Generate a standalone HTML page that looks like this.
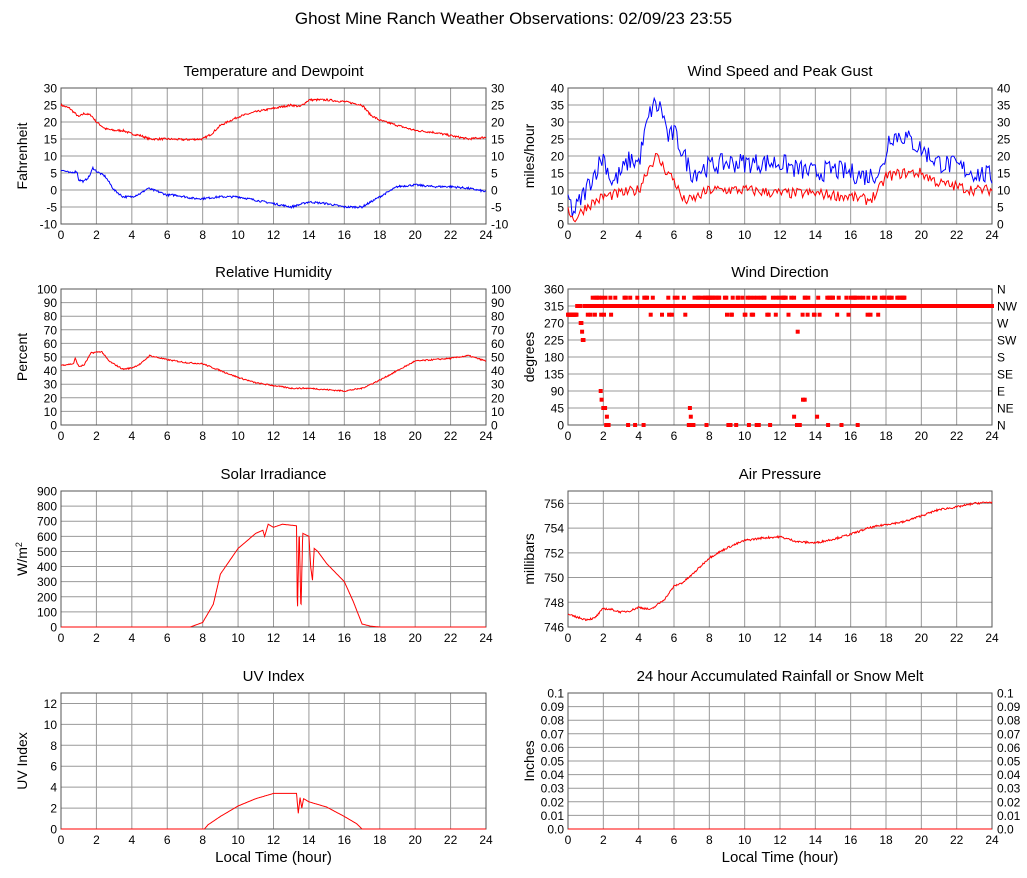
<!DOCTYPE html><html><head><meta charset="utf-8"><style>body{margin:0;background:#fff}svg{display:block}text{font-family:"Liberation Sans",sans-serif;fill:#000}</style></head><body>
<svg id="s" width="1027" height="878" xmlns="http://www.w3.org/2000/svg"></svg>
<script>
var S=document.getElementById('s'),out='';
var seed=7;function rnd(){seed=(seed*16807)%2147483647;return seed/2147483647;}
function T(x,y,t,a,sz,rot){out+='<text x="'+x+'" y="'+y+'" font-size="'+(sz||12)+'" text-anchor="'+(a||'middle')+'"'+(rot?' transform="rotate(-90 '+x+' '+y+')"':'')+'>'+t+'</text>';}
function panel(p){
 var x0=p.x,y0=p.y,w=p.w,h=136,ymin=p.min,ymax=p.max;
 p.X=function(t){return x0+t/24*w};p.Y=function(v){return y0+h-(v-ymin)/(ymax-ymin)*h};
 for(var i=0;i<=12;i++){var x=x0+i*w/12;out+='<line x1="'+x+'" y1="'+y0+'" x2="'+x+'" y2="'+(y0+h)+'" stroke="#999"/>';T(x,y0+h+15,2*i);}
 p.ticks.forEach(function(v,k){var y=p.Y(v);out+='<line x1="'+x0+'" y1="'+y+'" x2="'+(x0+w)+'" y2="'+y+'" stroke="#999"/>';T(x0-4,y+4.5,p.lab?p.lab[k]:v,'end');if(p.right)T(x0+w+5,y+4.5,p.rl?p.rl[k]:v,'start');});
 out+='<rect x="'+x0+'" y="'+y0+'" width="'+w+'" height="'+h+'" fill="none" stroke="#555"/>';
 T(x0+w/2,y0-12,p.title,'middle',15);
 T(x0-34,y0+h/2,p.ylab,'middle',14,1);
 if(p.xl)T(x0+w/2,y0+h+33,'Local Time (hour)','middle',15);
}
function interp(k,t){for(var i=1;i<k.length;i++)if(t<=k[i][0]){var a=k[i-1],b=k[i];return a[1]+(b[1]-a[1])*(t-a[0])/(b[0]-a[0]||1);}return k[k.length-1][1];}
function line(p,k,col,noise,step){var d='';step=step||0.04;for(var t=0;t<=24.001;t+=step){var v=interp(k,t)+(noise?(rnd()-0.5)*2*noise:0);if(p.clip)v=Math.max(p.min,v);d+=(d?'L':'M')+p.X(t).toFixed(1)+' '+p.Y(v).toFixed(1);}out+='<path d="'+d+'" fill="none" stroke="'+col+'" stroke-width="1"/>';}
var L=61,R=568,W=425;
var P1={x:L,y:88,w:W,min:-10,max:30,ticks:[-10,-5,0,5,10,15,20,25,30],right:1,title:'Temperature and Dewpoint',ylab:'Fahrenheit'};
var P2={x:R,y:88,w:424,min:0,max:40,ticks:[0,5,10,15,20,25,30,35,40],right:1,title:'Wind Speed and Peak Gust',ylab:'miles/hour'};
var P3={x:L,y:289,w:W,min:0,max:100,ticks:[0,10,20,30,40,50,60,70,80,90,100],right:1,title:'Relative Humidity',ylab:'Percent'};
var P4={x:R,y:289,w:424,min:0,max:360,ticks:[0,45,90,135,180,225,270,315,360],right:1,rl:['N','NE','E','SE','S','SW','W','NW','N'],title:'Wind Direction',ylab:'degrees'};
var P5={x:L,y:491,w:W,min:0,max:900,ticks:[0,100,200,300,400,500,600,700,800,900],title:'Solar Irradiance',ylab:'W/m<tspan dy="-5" font-size="9">2</tspan>'};
var P6={x:R,y:491,w:424,min:746,max:757,ticks:[746,748,750,752,754,756],title:'Air Pressure',ylab:'millibars'};
var P7={x:L,y:693,w:W,min:0,max:13,ticks:[0,2,4,6,8,10,12],title:'UV Index',ylab:'UV Index',xl:1};
var rt=[];for(var i=0;i<=10;i++)rt.push(i/100);
var P8={x:R,y:693,w:424,min:0,max:0.1,ticks:rt,lab:rt.map(function(v){return v==0?'0.0':v==0.1?'0.1':v.toFixed(2)}),right:1,rl:rt.map(function(v){return v==0?'0.0':v==0.1?'0.1':v.toFixed(2)}),title:'24 hour Accumulated Rainfall or Snow Melt',ylab:'Inches',xl:1};
[P1,P2,P3,P4,P5,P6,P7,P8].forEach(panel);
T(513.5,24,'Ghost Mine Ranch Weather Observations: 02/09/23 23:55','middle',17);
line(P1,[[0,25],[0.5,24],[1,21.5],[1.3,22.5],[1.7,22],[2,20],[2.5,18],[3,17.5],[3.5,17.5],[4,16.5],[4.5,16],[5,15],[6,15],[7,14.8],[8,15],[8.5,16.5],[9,19],[10,21.5],[11,23],[12,24],[13,25],[13.5,24.5],[14,26.5],[15,26.5],[16,26],[17,25],[17.5,22],[18,20.5],[19,19],[20,17.5],[21,17],[22,16],[23,15],[24,15.5]],'red',0.3);
line(P1,[[0,6],[0.5,5],[0.9,5.5],[1,3],[1.3,2.5],[1.6,4],[1.8,6.5],[2,5.5],[2.5,4],[3,0],[3.5,-2],[4,-2],[4.5,-1],[4.9,0.5],[5.5,-0.5],[6,-1.5],[6.5,-1.5],[7,-2],[7.5,-2.5],[8,-2.5],[9,-2],[10,-2],[11,-3],[12,-4],[13,-5],[14,-3.5],[15,-4],[16,-5],[17,-5],[18,-2],[19,1],[20,1.5],[21,1],[22,1],[23,0.5],[24,-0.5]],'blue',0.3);
line(P2,[[0,8],[0.3,3],[1,10],[1.5,15],[2,20],[2.5,12],[3,15],[3.5,19],[4,18],[4.5,30],[4.8,35],[5.3,34],[5.7,25],[6,27],[6.5,21],[7,15],[8,17],[9,18],[10,18],[12,18],[13,16],[14,15],[15,16],[16,15],[17,14],[17.8,16],[18.2,26],[19,26],[20,22],[21,18],[22,17],[23,15],[24,14]],'blue',3,0.08);
line(P2,[[0,5],[0.3,1],[1,5],[2,8],[3,9],[4,10],[4.5,16],[5,20],[5.5,16],[6,13],[6.5,7],[7,7],[8,10],[10,10],[12,9],[14,9],[16,8],[17,7],[17.5,9],[18,14],[19,15],[20,15],[21,12],[22,11],[23,10],[24,10]],'red',1.6,0.08);
line(P3,[[0,44],[0.7,45],[0.8,49],[1,43],[1.3,44],[1.7,53],[2.3,54],[2.7,47],[3.5,41],[4,42],[4.5,45],[5,51],[6,48],[7,46],[8,45],[9,40],[10,35],[11,31],[12,29],[13,27],[14,27],[15,26],[16,25],[17,27],[18,33],[19,40],[20,47],[21,48],[22,49],[23,51],[24,47]],'red',0.5);
// wind direction dots
function dot(t,v){out+='<rect x="'+(P4.X(t)-2).toFixed(1)+'" y="'+(P4.Y(v)-2).toFixed(1)+'" width="4" height="4" fill="red"/>';}
for(var t=0;t<=24;t+=0.04){var v;
 if(t<0.5)v=292;else if(t<0.7)v=315;else if(t<0.9)v=[270,247,225][Math.floor((t-0.7)/0.07)]||225;
 else if(t>18.5){v=315;if(t<19.1&&rnd()<0.5)v=337;}
 else{var r=rnd();v=r<0.62?315:r<0.82?337:r<0.9?292:(r<0.95&&t>1.5&&t<17?0:315);}
 dot(t,v);}
[[1.85,90],[1.9,67],[2,45],[2.1,45],[2.2,22],[2.3,0],[6.9,45],[6.95,22],[7,0],[7.1,0],[13,247],[13.3,67],[13.4,67],[12.8,22],[14.1,22]].forEach(function(a){dot(a[0],a[1]);});
line(P5,[[0,0],[7.3,0],[8,30],[8.6,150],[9,350],[10,520],[11,620],[11.4,640],[11.5,600],[11.7,680],[12,660],[12.5,680],[13.3,670],[13.35,80],[13.45,650],[13.55,100],[13.65,620],[14,600],[14.1,400],[14.2,310],[14.3,520],[14.5,500],[15,420],[16,300],[16.5,170],[17,20],[17.5,5],[18,0],[24,0]],'red',0,0.02);
line(P6,[[0,747],[0.5,746.8],[1,746.6],[1.5,746.7],[2,747.5],[2.5,747.4],[3,747.2],[3.5,747.3],[4,747.6],[4.7,747.4],[5.5,748.3],[6,749.3],[6.5,749.6],[7,750.2],[8,751.6],[9,752.4],[10,753],[11,753.2],[12,753.3],[13,752.9],[14,752.8],[15,753.1],[16,753.5],[17,754],[18,754.3],[19,754.5],[20,755],[21,755.5],[22,755.7],[23,756],[24,756.1]],'red',0.08);
line(P7,[[0,0],[8.1,0],[8.3,0.4],[9,1.2],[10,2.2],[11,2.9],[12,3.4],[13.3,3.4],[13.4,1.5],[13.5,3],[13.6,2],[13.7,2.9],[14,2.6],[15,2.1],[16,1.2],[16.7,0.5],[17,0],[24,0]],'red',0,0.02);
line(P8,[[0,0],[24,0]],'red',0);
S.innerHTML=out;
</script></body></html>
